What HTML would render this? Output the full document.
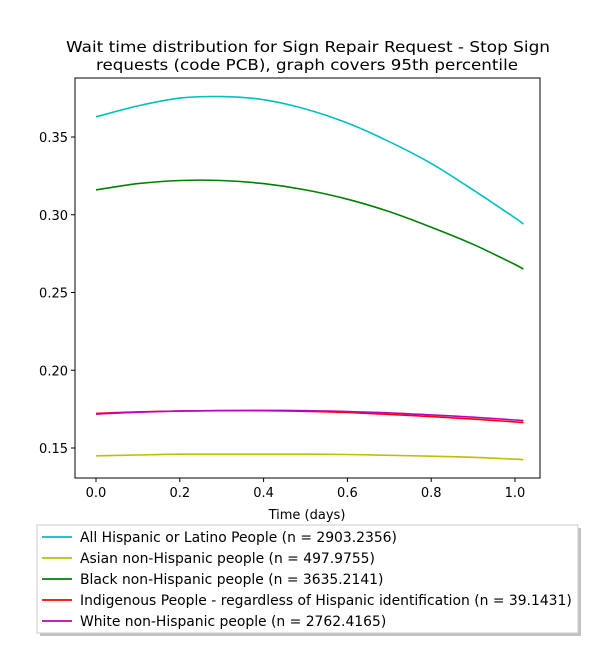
<!DOCTYPE html>
<html><head><meta charset="utf-8"><style>
body{margin:0;background:#fff;font-family:"Liberation Sans","DejaVu Sans",sans-serif;}
svg text{font-family:"DejaVu Sans","Liberation Sans",sans-serif;}
</style></head><body>
<svg id="chart" width="600" height="650" xmlns="http://www.w3.org/2000/svg">
<rect width="600" height="650" fill="#fff"/>
<text x="308" y="52" font-size="15" text-anchor="middle" textLength="484" lengthAdjust="spacingAndGlyphs">Wait time distribution  for Sign Repair Request - Stop Sign</text>
<text x="307" y="70" font-size="15" text-anchor="middle" textLength="422" lengthAdjust="spacingAndGlyphs">requests (code PCB), graph covers 95th percentile</text>
<g id="plot"></g>
<rect x="75" y="78" width="465" height="400" fill="none" stroke="#000" stroke-width="1"/>
<text x="307" y="519" font-size="13" text-anchor="middle">Time (days)</text>
<g>
<rect x="40" y="528" width="541" height="108" fill="#999" opacity="0.6"/>
<rect x="37" y="525" width="541" height="108" fill="#fff" stroke="#ccc"/>
<g id="legend-items"></g>
</g>
</svg>
<script>
const xs=[0,0.1,0.2,0.3,0.4,0.5,0.6,0.7,0.8,0.9,1.0,1.02];
const hispanic=[0.363,0.370,0.375,0.376,0.374,0.368,0.359,0.347,0.333,0.316,0.298,0.294];
const asian=[0.145,0.1455,0.146,0.146,0.146,0.146,0.1458,0.1453,0.1447,0.144,0.1428,0.1425];
const black=[0.316,0.320,0.322,0.322,0.320,0.316,0.310,0.302,0.292,0.281,0.268,0.265];
const indigenous=[0.1722,0.1732,0.1738,0.174,0.174,0.1736,0.1728,0.1716,0.1702,0.1686,0.1668,0.1664];
const white=[0.1718,0.173,0.1737,0.1741,0.1742,0.174,0.1735,0.1726,0.1713,0.1698,0.168,0.1676];
const names=["All Hispanic or Latino People (n = 2903.2356)","Asian non-Hispanic people (n = 497.9755)","Black non-Hispanic people (n = 3635.2141)","Indigenous People - regardless of Hispanic identification (n = 39.1431)","White non-Hispanic people (n = 2762.4165)"];
const colors=["#00bfbf","#bfbf00","#008000","#ff0000","#bf00bf"];
const xTicks=[0,0.2,0.4,0.6,0.8,1.0];
const xTickLabels=["0.0","0.2","0.4","0.6","0.8","1.0"];
const yTicks=[0.15,0.20,0.25,0.30,0.35];
const yTickLabels=["0.15","0.20","0.25","0.30","0.35"];
const NS="http://www.w3.org/2000/svg";
const sx=v=>96+v*419;
const sy=v=>448-(v-0.15)*1555;
const plot=document.getElementById('plot');
function mk(t,a){const e=document.createElementNS(NS,t);for(const k in a)e.setAttribute(k,a[k]);return e;}
xTicks.forEach((t,i)=>{
 const l=mk('line',{x1:sx(t),x2:sx(t),y1:478,y2:482,stroke:'#000'});
 
 
 plot.appendChild(l);
 const tx=mk('text',{x:sx(t),y:497,'font-size':'13','text-anchor':'middle'});
 
 
 tx.textContent=xTickLabels[i];plot.appendChild(tx);
});
yTicks.forEach((t,i)=>{
 const l=mk('line',{x1:71,x2:75,y1:sy(t),y2:sy(t),stroke:'#000'});
 
 
 plot.appendChild(l);
 const tx=mk('text',{x:68,y:sy(t)+5,'font-size':'13','text-anchor':'end'});
 
 
 tx.textContent=yTickLabels[i];plot.appendChild(tx);
});
function smooth(pts){
 let d='M'+pts[0][0].toFixed(1)+','+pts[0][1].toFixed(1);
 for(let i=0;i<pts.length-1;i++){
  const p0=pts[Math.max(0,i-1)],p1=pts[i],p2=pts[i+1],p3=pts[Math.min(pts.length-1,i+2)];
  const c1=[p1[0]+(p2[0]-p0[0])/6,p1[1]+(p2[1]-p0[1])/6];
  const c2=[p2[0]-(p3[0]-p1[0])/6,p2[1]-(p3[1]-p1[1])/6];
  d+=' C'+c1[0].toFixed(1)+','+c1[1].toFixed(1)+' '+c2[0].toFixed(1)+','+c2[1].toFixed(1)+' '+p2[0].toFixed(1)+','+p2[1].toFixed(1);
 }
 return d;
}
const series=[hispanic,asian,black,indigenous,white];
const keys=['hispanic','asian','black','indigenous','white'];
series.forEach((s,i)=>{
 const pts=s.map((v,j)=>[sx(xs[j]),sy(v)]);
 const p=mk('path',{d:smooth(pts),fill:'none',stroke:colors[i],'stroke-width':'1.6'});
 
 
 plot.appendChild(p);
});
const lg=document.getElementById('legend-items');
names.forEach((n,i)=>{
 const y=537+i*21;
 const l=mk('line',{x1:42,x2:72,y1:y,y2:y,stroke:colors[i],'stroke-width':'1.8'});
 
 
 lg.appendChild(l);
 const t=mk('text',{x:80,y:y+5,'font-size':'13.9'});
 
 
 t.textContent=n;lg.appendChild(t);
});
</script>
</body></html>
